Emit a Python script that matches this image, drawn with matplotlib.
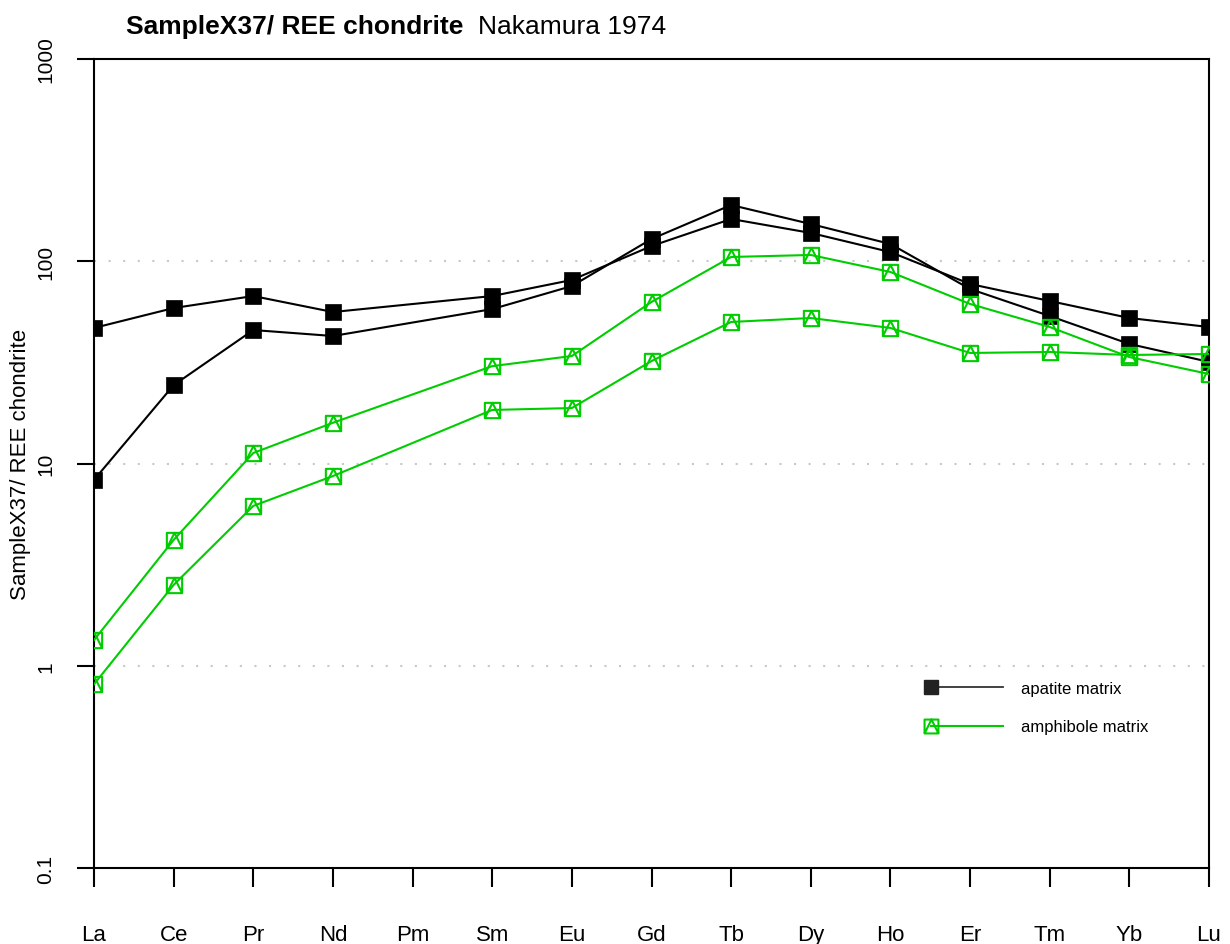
import numpy as np
import matplotlib
matplotlib.use("Agg")
import matplotlib.pyplot as plt
from matplotlib import font_manager
from matplotlib.path import Path
from matplotlib.lines import Line2D
from matplotlib.legend_handler import HandlerLine2D

# ---------------- data ----------------
elements = ['La', 'Ce', 'Pr', 'Nd', 'Pm', 'Sm', 'Eu', 'Gd', 'Tb', 'Dy', 'Ho', 'Er', 'Tm', 'Yb', 'Lu']
nan = np.nan
apatite_1 = [46.8, 58.7, 67.3, 56.1, nan, 67.3, 80.8, 118.9, 161.8, 138.0, 111.0, 77.2, 63.6, 52.4, 47.3]
apatite_2 = [8.3, 24.4, 45.7, 42.7, nan, 58.0, 75.4, 128.8, 189.7, 152.8, 121.7, 72.9, 53.6, 39.0, 31.8]
amphibole_1 = [1.34, 4.19, 11.27, 15.9, nan, 30.3, 34.0, 62.9, 105.0, 107.4, 88.5, 61.5, 47.3, 33.6, 27.7]
amphibole_2 = [0.81, 2.51, 6.17, 8.67, nan, 18.4, 18.8, 32.1, 50.1, 52.4, 46.8, 35.2, 35.6, 34.4, 34.8]
legend_labels = ['apatite matrix', 'amphibole matrix']
yticks = [0.1, 1, 10, 100, 1000]
ytick_labels = ['0.1', '1', '10', '100', '1000']
title_bold = 'SampleX37/ REE chondrite'
title_normal = 'Nakamura 1974'
ylabel = 'SampleX37/ REE chondrite'

# ---------------- fonts ----------------
available = {f.name for f in font_manager.fontManager.ttflist}
regular = 'Liberation Sans' if 'Liberation Sans' in available else 'DejaVu Sans'
narrow = 'Liberation Sans Narrow' if 'Liberation Sans Narrow' in available else regular

BLACK = '#000000'
GREEN = '#00CD00'

# square with inscribed triangle (R pch 14)
box_tri = Path(
    [(-1, -1), (1, -1), (1, 1), (-1, 1), (-1, -1),
     (-1, -1), (0, 1), (1, -1)],
    [Path.MOVETO, Path.LINETO, Path.LINETO, Path.LINETO, Path.CLOSEPOLY,
     Path.MOVETO, Path.LINETO, Path.LINETO])

fig = plt.figure(figsize=(12.3, 9.45), dpi=100)
ax = fig.add_axes([94 / 1230, 1 - 869 / 945, (1209 - 94) / 1230, (869 - 60) / 945])

x = np.arange(len(elements))


def draw(vals, color, marker, mfc, ms, mew):
    v = np.asarray(vals, dtype=float)
    m = np.isfinite(v)
    ax.plot(x[m], v[m], color=color, lw=1.5, marker=marker, ms=ms,
            mfc=mfc, mec=color, mew=mew, zorder=3)


draw(apatite_1, BLACK, 's', BLACK, 11.5, 0.5)
draw(apatite_2, BLACK, 's', BLACK, 11.5, 0.5)
draw(amphibole_1, GREEN, box_tri, 'none', 11, 1.5)
draw(amphibole_2, GREEN, box_tri, 'none', 11, 1.5)

ax.set_yscale('log')
ax.set_ylim(0.1, 1000)
ax.set_xlim(0, len(elements) - 1)

# grid
for g in [1, 10, 100]:
    ax.axhline(g, color='#c8c8c8', lw=1.5, ls=(0, (1, 6)), zorder=1)

# spines
for s in ax.spines.values():
    s.set_linewidth(1.5)

ax.set_yticks(yticks)
ax.set_yticklabels(ytick_labels, rotation=90, va='center', ha='right',
                   fontfamily=regular, fontsize=15)
ax.yaxis.set_minor_locator(matplotlib.ticker.NullLocator())
ax.tick_params(axis='y', length=12, width=1.5, pad=16)

ax.set_xticks(x)
ax.set_xticklabels(elements, fontfamily=narrow, fontsize=16)
for lab in ax.get_xticklabels():
    lab.set_va('baseline')
ax.tick_params(axis='x', length=14, width=1.5, pad=38)

ax.set_ylabel(ylabel, fontfamily=regular, fontsize=16)
ax.yaxis.set_label_coords(-0.066, 0.5)
ax.yaxis.label.set_va('center')

fig.text(126 / 1230, 1 - 27 / 945, title_bold, fontfamily=narrow, fontweight='bold',
         fontsize=19, va='center', ha='left')
fig.text(478 / 1230, 1 - 27 / 945, title_normal, fontfamily=narrow,
         fontsize=19, va='center', ha='left')


# legend with marker at the left end of the line
class LeftMarker(HandlerLine2D):
    def create_artists(self, legend, orig_handle, xdescent, ydescent,
                       width, height, fontsize, trans):
        y = (height - ydescent) / 2
        line = Line2D([-xdescent, -xdescent + width], [y, y])
        self.update_prop(line, orig_handle, legend)
        line.set_marker('None')
        mk = Line2D([-xdescent], [y])
        self.update_prop(mk, orig_handle, legend)
        mk.set_linestyle('None')
        line.set_transform(trans)
        mk.set_transform(trans)
        return [line, mk]


h1 = Line2D([], [], color='#333333', lw=1.3, marker='s', ms=10, mfc='#222222', mec='#222222')
h2 = Line2D([], [], color=GREEN, lw=1.5, marker=box_tri, ms=10, mfc='none', mec=GREEN, mew=1.5)
leg = ax.legend([h1, h2], legend_labels, loc='upper left',
                bbox_to_anchor=((931 - 94) / 1115, (869 - 682) / 809),
                frameon=False, borderpad=0, borderaxespad=0,
                handlelength=4.3, handletextpad=1.1, labelspacing=1.4,
                handler_map={Line2D: LeftMarker()},
                prop={'family': narrow, 'size': 12})

fig.savefig('out.png', dpi=100)
